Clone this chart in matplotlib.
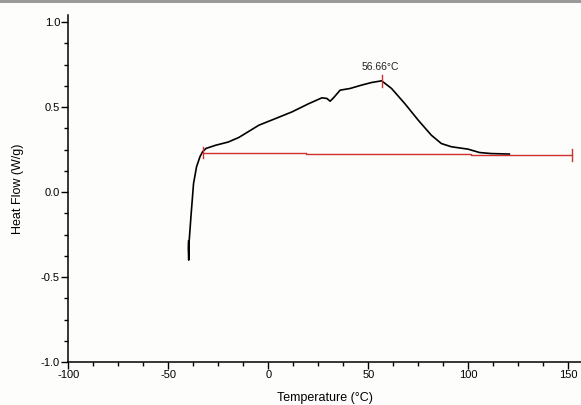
import matplotlib
matplotlib.use("Agg")
import matplotlib.pyplot as plt
from matplotlib.ticker import MultipleLocator

plt.rcParams["font.family"] = ["Liberation Sans", "DejaVu Sans"]

# DSC heat flow curve
temp = [-39.9, -40.0, -39.8, -39.6, -38.7, -37.4, -35.9, -34.2, -32.9, -31.2,
        -26.3, -20.0, -14.7, -4.7, 3.6, 11.8, 20.1, 26.8, 29.3, 30.9, 32.6,
        35.9, 40.9, 46.7, 51.6, 56.66, 61.6, 68.3, 74.9, 81.5, 86.5, 91.5,
        99.8, 105.6, 111.3, 120.5]
heat_flow = [-0.29, -0.33, -0.40, -0.29, -0.145, 0.05, 0.149, 0.208, 0.237, 0.257,
             0.276, 0.295, 0.322, 0.394, 0.433, 0.472, 0.52, 0.555, 0.551, 0.535, 0.555,
             0.60, 0.61, 0.63, 0.645, 0.655, 0.61, 0.52, 0.424, 0.335, 0.286, 0.267,
             0.253, 0.233, 0.227, 0.224]

# integration baseline (red)
base_temp = [-32.9, 18.8, 18.8, 101.4, 101.4, 152.0]
base_flow = [0.233, 0.233, 0.225, 0.225, 0.218, 0.218]

peak_temp = 56.66
peak_flow = 0.655
peak_label = "56.66°C"

fig = plt.figure(figsize=(5.81, 4.05), dpi=100)
fig.patch.set_facecolor("#fdfdfb")
ax = fig.add_axes([0.1176, 0.106, 0.883, 0.856])
ax.set_facecolor("#fdfdfb")

ax.plot(temp, heat_flow, color="black", linewidth=1.2)
ax.plot(base_temp, base_flow, color="#d03030", linewidth=1.0)
# end caps and peak marker
ax.plot([base_temp[0]] * 2, [base_flow[0] - 0.035, base_flow[0] + 0.035], color="#d03030", linewidth=1.0)
ax.plot([base_temp[-1]] * 2, [base_flow[-1] - 0.035, base_flow[-1] + 0.035], color="#d03030", linewidth=1.0)
ax.plot([peak_temp] * 2, [peak_flow - 0.035, peak_flow + 0.035], color="#d03030", linewidth=1.0)
ax.text(peak_temp - 0.5, peak_flow + 0.05, peak_label, fontsize=7.5, ha="center", va="bottom", color="#222222")

ax.set_xlim(-100, 156.5)
ax.set_ylim(-1.0, 1.04)
ax.xaxis.set_minor_locator(MultipleLocator(12.5))
ax.yaxis.set_minor_locator(MultipleLocator(0.125))
ax.set_yticks([-1.0, -0.5, 0.0, 0.5, 1.0])
ax.set_yticklabels(["-1.0", "-0.5", "0.0", "0.5", "1.0"])
ax.set_xticks([-100, -50, 0, 50, 100, 150])
ax.set_xticklabels(["-100", "-50", "0", "50", "100", "150"])

for side in ["top", "right"]:
    ax.spines[side].set_visible(False)
for side in ["left", "bottom"]:
    ax.spines[side].set_linewidth(1.1)

ax.tick_params(which="major", direction="out", length=5, width=1.0, labelsize=8, colors="black", pad=1)
ax.tick_params(which="minor", direction="out", length=3, width=1.0)

ax.set_xlabel("Temperature (°C)", fontsize=9, labelpad=8)
ax.set_ylabel("Heat Flow (W/g)", fontsize=9, labelpad=12)

# thin grey band along the top of the image
fig.add_artist(plt.Rectangle((0, 0.993), 1, 0.007, transform=fig.transFigure, color="#9a9a9a", linewidth=0))

fig.savefig("out.png", dpi=100, facecolor=fig.get_facecolor())
